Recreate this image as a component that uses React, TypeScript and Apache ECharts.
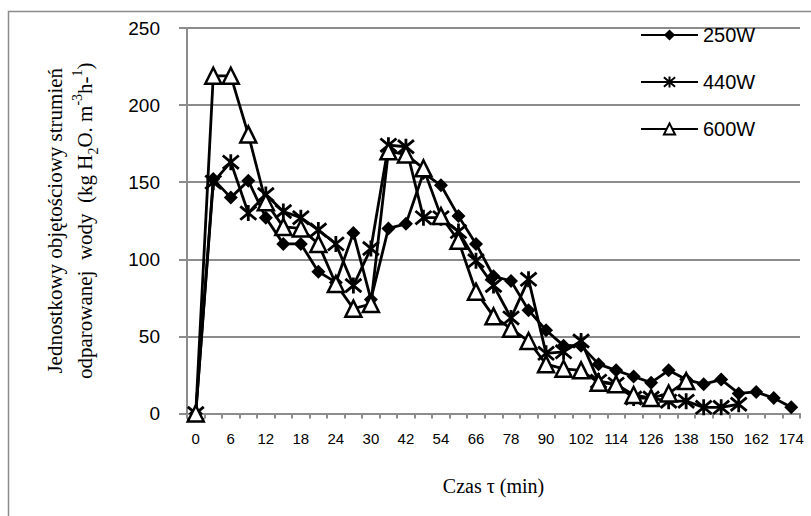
import React, { useEffect, useRef } from "react";
import * as echarts from "echarts";

const times = [0, 3, 6, 9, 12, 15, 18, 21, 24, 27, 30, 36, 42, 48, 54, 60, 66, 72, 78, 84, 90, 96, 102, 108, 114, 120, 126, 132, 138, 144, 150, 156, 162, 168, 174];
const series250W = [0, 152, 140, 151, 127, 110, 110, 92, 85, 117, 74, 120, 123, 156, 148, 128, 110, 89, 86, 67, 54, 44, 44, 32, 28, 24, 20, 28, 22, 19, 22, 13, 14, 10, 4];
const series440W = [0, 150, 163, 130, 142, 131, 127, 119, 110, 83, 107, 174, 173, 127, 127, 118, 99, 83, 62, 87, 39, 40, 47, 21, 19, 10, 10, 8, 8, 4, 4, 6];
const series600W = [0, 219, 219, 181, 137, 121, 120, 110, 84, 68, 71, 170, 168, 159, 128, 112, 79, 63, 55, 47, 32, 29, 28, 20, 19, 12, 10, 13, 21];
const seriesNames = ["250W", "440W", "600W"];
const yTicks = { min: 0, max: 250, interval: 50 };

const SANS = "'Liberation Sans', Arial, sans-serif";
const SERIF = "'Liberation Serif', 'Times New Roman', serif";
const STAR = "path://M0,0L10,10M10,0L0,10M5,-1L5,11";

export default function App() {
  const ref = useRef<HTMLDivElement>(null);
  useEffect(() => {
    if (!ref.current) return;
    const chart = echarts.init(ref.current, undefined, { renderer: "svg" });
    const lineStyle = { color: "#000", width: 2.8 };
    chart.setOption({
      animation: false,
      backgroundColor: "#fff",
      graphic: [
        {
          type: "rect",
          shape: { x: 8.5, y: 11.5, width: 830, height: 530 },
          style: { fill: "none", stroke: "#8c8c8c", lineWidth: 1.5 },
          silent: true,
          z: -10,
        },
      ],
      grid: { left: 187, top: 28, right: 11, bottom: 102.5 },
      legend: {
        orient: "vertical",
        left: 640,
        top: 25,
        padding: 0,
        itemWidth: 57,
        itemHeight: 14,
        itemGap: 27,
        textStyle: { fontFamily: SANS, fontSize: 20, color: "#000" },
        data: seriesNames,
      },
      xAxis: {
        type: "category",
        data: times.map(String),
        boundaryGap: true,
        name: "Czas τ (min)",
        nameLocation: "middle",
        nameGap: 62,
        nameTextStyle: { fontFamily: SERIF, fontSize: 20, color: "#000" },
        axisLine: { show: true, lineStyle: { color: "#8c8c8c", width: 2 } },
        axisTick: { show: true, interval: 0, length: 5, lineStyle: { color: "#8c8c8c", width: 2 } },
        axisLabel: { interval: 1, fontFamily: SANS, fontSize: 15, color: "#000", margin: 17 },
        splitLine: { show: false },
      },
      yAxis: {
        type: "value",
        min: yTicks.min,
        max: yTicks.max,
        interval: yTicks.interval,
        name:
          "{a|Jednostkowy objętościowy strumień}\n{a|odparowanej  wody  (kg H}{sub|2}{a|O. m}{sup|-3}{a|h-}{sup|1}{a|)}",
        nameLocation: "middle",
        nameGap: 87,
        nameTextStyle: {
          fontFamily: SERIF,
          fontSize: 21,
          color: "#000",
          rich: {
            a: { fontFamily: SERIF, fontSize: 21, color: "#000", lineHeight: 30 },
            sub: { fontFamily: SERIF, fontSize: 14, color: "#000", lineHeight: 14, verticalAlign: "bottom" },
            sup: { fontFamily: SERIF, fontSize: 14, color: "#000", lineHeight: 14, verticalAlign: "top" },
          },
        },
        axisLine: { show: true, lineStyle: { color: "#8c8c8c", width: 2 } },
        axisTick: { show: true, length: 8, lineStyle: { color: "#8c8c8c", width: 2 } },
        axisLabel: { fontFamily: SANS, fontSize: 19, color: "#000", margin: 27 },
        splitLine: { show: true, lineStyle: { color: "#8c8c8c", width: 2 } },
      },
      series: [
        {
          name: seriesNames[0],
          type: "line",
          data: series250W,
          symbol: "diamond",
          symbolSize: 14,
          showAllSymbol: true,
          lineStyle,
          itemStyle: { color: "#000" },
        },
        {
          name: seriesNames[1],
          type: "line",
          data: series440W,
          symbol: STAR,
          symbolSize: 16,
          showAllSymbol: true,
          lineStyle,
          itemStyle: { color: "#000", borderColor: "#000", borderWidth: 2.8 },
        },
        {
          name: seriesNames[2],
          type: "line",
          data: series600W,
          symbol: "triangle",
          symbolSize: 16,
          showAllSymbol: true,
          lineStyle,
          itemStyle: { color: "#fff", borderColor: "#000", borderWidth: 2.5 },
        },
      ],
    });
    return () => chart.dispose();
  }, []);
  return (
    <div
      ref={ref}
      style={{ position: "fixed", left: 0, top: 0, width: 811, height: 516, background: "#fff" }}
    />
  );
}
